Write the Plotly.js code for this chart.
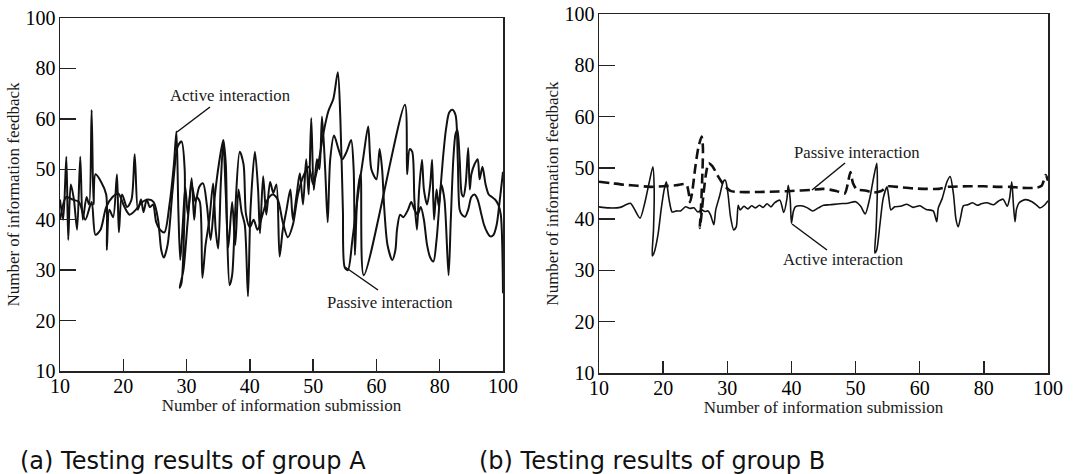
<!DOCTYPE html>
<html>
<head>
<meta charset="utf-8">
<script src="https://cdn.plot.ly/plotly-3.0.1.min.js"></script>
<style>html,body{margin:0;padding:0;background:#fff;}#chart{width:1078px;height:474px;}</style>
</head>
<body>
<div id="chart"></div>
<script>
// ---- tick labels (the original axes are evenly spaced at these labels) ----
var tickLabels = [10, 20, 30, 40, 50, 60, 80, 100];

// ---- Group A (left panel) ----
var groupA_active_x = [10,10.5,11.0,11.3,11.7,12.2,12.7,13.2,13.6,14.2,14.6,15.0,15.3,15.6,16.5,17.3,17.4,17.8,18.4,19.0,19.3,19.8,20.6,21.3,21.8,22.3,22.8,23.2,23.7,24.2,24.7,25.2,25.8,26.5,27.3,28.0,28.4,28.7,29.0,29.4,29.8,30.2,30.8,31.2,31.6,32.1,32.5,33.0,33.6,34.2,34.6,35.0,35.4,35.8,36.2,36.6,37.2,37.7,38.2,38.7,39.2,39.7,40.1,40.8,41.3,41.6,42.1,42.6,43.2,43.7,44.2,44.7,45.2,45.8,46.4,46.8,47.4,47.9,48.4,48.9,49.3,49.7,50.1,50.6,51.0,51.4,51.9,52.3,52.7,53.3,54.0,54.6,55.3,56.0,56.4,56.6,57.0,57.5,58.0,69.0,69.7,70.5,71.3,72.0,72.8,73.5,74.4,75.0,76.0,77.0,77.6,78.2,79.0,79.7,80.5,81.5,82.8,83.5,84.3,85.0,85.6,86.3,87.0,87.5,88.2,89.0,89.5,90.0,91.0,92.0,92.6,93.5,94.5,95.5,96.5,97.5,98.5,99.3,100];
var groupA_active_y = [44,40,52.5,36,47,44,38,52.5,40,44.5,43,63.5,43,49,47.5,45,34,42,40.5,49,37.5,45,42.5,44,53,42,44,41.5,44,42.5,43,39.5,38,37.5,43,51,57.5,42,32,39,46.5,41,48.2,40,44.5,43.5,28.5,35,40,47.2,38,34.3,47,55.6,45,34.5,43.5,35,46,41.5,39,24.8,42,53.5,46,37.3,48.6,41,47.5,45.3,47,32.7,38,42,46,40,45,49.2,43,52,45,60.3,45.9,52,50,60.9,50,39.5,52,56.7,54,52,53.5,55.8,50,33,45,49,29,65.6,49,54,53.5,44,38,46,51.9,46,43,47,51.9,40,46,42.6,47,44,29,40,52,57,57.8,52,45,44.6,47,54.2,46,49,51,52,48,50.5,47,45,44.5,44,43,41,25.4];

var groupA_passive_x = [10,11,12,13,14,15,15.6,16.4,17.3,18.3,19.2,20.2,21,22,23,24,24.8,25.5,26.0,26.4,27.0,27.8,28.6,29.2,29.7,29.6,29.2,28.9,29.5,30.2,30.8,31.4,32.0,32.6,33.2,33.8,34.4,35.1,35.8,36.2,36.4,36.8,37.2,37.7,38.4,39.0,39.4,40.0,40.6,41.2,42.0,42.8,43.6,44.4,45.2,46.0,46.8,47.6,48.4,49.3,50.0,50.8,51.6,52.4,53.2,53.9,54.3,54.7,55.0,55.5,56.2,57.2,58.0,58.7,59.2,60,61,61.8,62.5,63.5,65,66,66.5,67.5,68.5,70,71,72,73,74,75,76,77,78,79,80,81,82,83,84,85,85.7,86.3,87,88,89,90,91,92,93,94,95,96,97,98,99,100];
var groupA_passive_y = [40,44.5,44,43.5,40,43.5,37,38,42.5,44.5,45.2,42.5,41,42,43.5,44,43.5,40,34,32.5,35,46,54.5,55.5,50,38,27.5,26.5,30,40,47,43.5,46.5,47.2,43,36,44,51,55.8,51,38,27,29,42,53.5,51,41,38.5,40,38,41,44,45,44,39.5,36.5,39,45,48.5,50.5,47,51,57,63,68,78.5,60,42,30.5,30,36,46,53,58.5,50,48,54,50,42,35,32,34,38,41,40.5,42,43.5,42,41,42.5,40,35,32.5,31.7,36,44,52,58,62.5,63.6,61.5,52,42,41,40.6,42,44.5,45,44,41.5,39,37.5,36.7,37,39,44,49.5];

// ---- Group B (right panel) ----
var groupB_active_x = [10,11.5,13.3,14.2,14.9,15.5,16.4,17.2,17.8,18.4,18.6,18.5,18.3,18.6,19.2,19.7,20.2,20.5,20.9,21.4,22.0,22.7,23.5,24.2,24.8,25.4,26.0,26.5,27.0,27.4,27.9,28.2,28.8,29.4,29.7,30.1,30.5,31.0,31.4,31.7,32.0,32.6,33.2,33.8,34.4,35.0,35.6,36.2,36.8,37.4,38.2,38.8,39.3,39.5,39.8,40.0,40.3,40.6,41.5,42.5,43.3,44.2,45.0,46.0,47.5,48.8,50.0,50.8,51.5,52.2,52.8,53.3,53.4,53.2,53.0,53.3,53.8,54.3,54.9,55.2,55.5,56.1,57.0,58.0,59.0,60,62,64.2,65.3,65.8,67,68.5,69.5,70.5,71.3,72.0,72.8,73.6,75,76.5,78,79.2,81,83,84.5,86,87.3,88.0,88.7,89.2,89.7,90.2,91,93,95,96.5,97.5,99,100];
var groupB_active_y = [42.4,42.2,42.3,42.8,43.1,42.0,40.2,43.5,47,50.2,46,38,32.8,33.5,37,42,46,47.3,44,41.4,41.6,41.6,42.4,42.1,42.2,41.4,41.8,41.5,41.6,40.8,38.9,41.8,44.5,47.4,47.6,45,40.5,37.9,38.5,42.7,41.8,42.5,42.0,42.6,42.2,42.7,42.3,43.0,42.4,43.2,43.7,41.3,44,46.6,44,39.2,41.5,42.4,42.6,42.2,41.6,42.2,42.7,42.8,43.0,43.1,43.4,42.5,41.0,44,48,50.9,47,38,33.4,34,39,44,46.3,44,41.8,42.4,42.5,42.9,42.3,42.6,41.9,41.6,39.5,42.2,44,47.3,48.3,45,40,38.5,40.5,42.6,42.8,43.2,42.7,43.0,43.2,42.8,43.5,43.9,42.5,44,47.3,43,39.5,42,43.2,43.8,43.4,42.7,42.2,42.8,43.6];

var groupB_passive_x = [10,12,14,16,18,20,22,23.6,24.0,24.2,24.5,25.0,25.5,26.0,26.2,26.0,25.8,25.7,25.9,26.3,26.7,27.1,27.7,28.5,29.5,30.5,31.5,35,38,40,43,45,47,48.3,48.8,49.2,49.6,50.2,51.5,52.8,54,55.2,57,59,62,66,69,75,80,85,88,92,96,98,99.3,100];
var groupB_passive_y = [47.3,47.0,46.7,46.5,46.3,46.4,46.6,46.8,45,43.3,45,50,54,56.1,54,45,40,38.3,40,45,49,50.9,50.3,48.5,46.6,45.5,45.3,45.3,45.4,45.5,45.7,45.9,45.5,45.0,47,49.2,47,45.8,45.6,45.2,45.5,46.4,46.2,46.0,45.9,45.9,46.3,46.4,46.4,46.3,46.3,46.1,46.1,46.5,48.6,47.5];

// map a value on the unevenly labelled axis to its evenly spaced position
function pos(v) { return v <= 60 ? (v - 10) / 10 : 5 + (v - 60) / 20; }
function mapAll(arr) { return arr.map(pos); }

var W = 1078, H = 474;
function px(x) { return x / W; }
function py(y) { return 1 - y / H; }

var serif = 'Liberation Serif';
var ink = '#111111';

var traces = [
  {x: mapAll(groupA_active_x), y: mapAll(groupA_active_y), xaxis: 'x', yaxis: 'y', type: 'scatter', mode: 'lines', name: 'Active interaction',
   line: {color: ink, width: 2, shape: 'spline', smoothing: 0.8}},
  {x: mapAll(groupA_passive_x), y: mapAll(groupA_passive_y), xaxis: 'x', yaxis: 'y', type: 'scatter', mode: 'lines', name: 'Passive interaction',
   line: {color: ink, width: 2, shape: 'spline', smoothing: 0.8}},
  {x: mapAll(groupB_active_x), y: mapAll(groupB_active_y), xaxis: 'x2', yaxis: 'y2', type: 'scatter', mode: 'lines', name: 'Active interaction',
   line: {color: ink, width: 1.6, shape: 'spline', smoothing: 0.7}},
  {x: mapAll(groupB_passive_x), y: mapAll(groupB_passive_y), xaxis: 'x2', yaxis: 'y2', type: 'scatter', mode: 'lines', name: 'Passive interaction',
   line: {color: ink, width: 2.6, dash: '10px,5px', shape: 'spline', smoothing: 0.7}}
];

var tickPos = tickLabels.map(pos);
var tickTxt = tickLabels.map(String);

function xAxis(domain, anchor) {
  return {
    domain: domain, anchor: anchor, range: [0, 7], showgrid: false, zeroline: false,
    showline: true, mirror: true, linecolor: '#222', linewidth: 1.5,
    ticks: 'inside', ticklen: 12, tickwidth: 1.5, tickcolor: '#222',
    tickmode: 'array', tickvals: tickPos, ticktext: tickTxt,
    tickfont: {family: serif, size: 20, color: '#000'}, ticklabelstandoff: -4,
    title: {text: 'Number of information submission', font: {family: serif, size: 17, color: '#1a1a1a'}, standoff: 2},
    automargin: false, fixedrange: true
  };
}
function yAxis(domain, anchor) {
  return {
    domain: domain, anchor: anchor, range: [0, 7], showgrid: false, zeroline: false,
    showline: true, mirror: true, linecolor: '#222', linewidth: 1.5,
    ticks: 'inside', ticklen: 16, tickwidth: 1.5, tickcolor: '#222',
    tickmode: 'array', tickvals: tickPos, ticktext: tickTxt,
    tickfont: {family: serif, size: 20, color: '#000'}, ticklabelstandoff: -1,
    title: {text: 'Number of information feedback', font: {family: serif, size: 17, color: '#1a1a1a'}, standoff: 1},
    automargin: false, fixedrange: true
  };
}

var annFont = {family: serif, size: 16.7, color: '#1a1a1a'};
var capFont = {family: 'DejaVu Sans', size: 24, color: '#111'};

var layout = {
  width: W, height: H, margin: {l: 0, r: 0, t: 0, b: 0},
  paper_bgcolor: '#fff', plot_bgcolor: '#fff', showlegend: false,
  font: {family: serif, color: '#111'},
  xaxis: xAxis([px(60), px(503)], 'y'),
  yaxis: yAxis([py(371), py(18)], 'x'),
  xaxis2: xAxis([px(599), px(1048)], 'y2'),
  yaxis2: yAxis([py(373), py(14)], 'x2'),
  annotations: [
    {xref: 'paper', yref: 'paper', x: px(230.5), y: py(96), text: 'Active interaction', showarrow: false, font: annFont, xanchor: 'center', yanchor: 'middle'},
    {xref: 'paper', yref: 'paper', x: px(390), y: py(302), text: 'Passive interaction', showarrow: false, font: annFont, xanchor: 'center', yanchor: 'middle'},
    {xref: 'paper', yref: 'paper', x: px(857), y: py(152), text: 'Passive interaction', showarrow: false, font: annFont, xanchor: 'center', yanchor: 'middle'},
    {xref: 'paper', yref: 'paper', x: px(843), y: py(259), text: 'Active interaction', showarrow: false, font: annFont, xanchor: 'center', yanchor: 'middle'},
    {xref: 'paper', yref: 'paper', x: px(18), y: py(461), text: '(a) Testing results of group A', showarrow: false, font: capFont, xanchor: 'left', yanchor: 'middle'},
    {xref: 'paper', yref: 'paper', x: px(477), y: py(461), text: '(b) Testing results of group B', showarrow: false, font: capFont, xanchor: 'left', yanchor: 'middle'}
  ],
  shapes: [
    {type: 'line', xref: 'paper', yref: 'paper', x0: px(210), y0: py(107), x1: px(177), y1: py(132), line: {color: ink, width: 1.5}},
    {type: 'line', xref: 'paper', yref: 'paper', x0: px(345), y0: py(267), x1: px(378), y1: py(290), line: {color: ink, width: 1.5}},
    {type: 'line', xref: 'paper', yref: 'paper', x0: px(845), y0: py(163), x1: px(812), y1: py(190), line: {color: ink, width: 1.5}},
    {type: 'line', xref: 'paper', yref: 'paper', x0: px(792), y0: py(224), x1: px(827), y1: py(250), line: {color: ink, width: 1.5}}
  ]
};

Plotly.newPlot('chart', traces, layout, {staticPlot: true, displayModeBar: false});
</script>
</body>
</html>
